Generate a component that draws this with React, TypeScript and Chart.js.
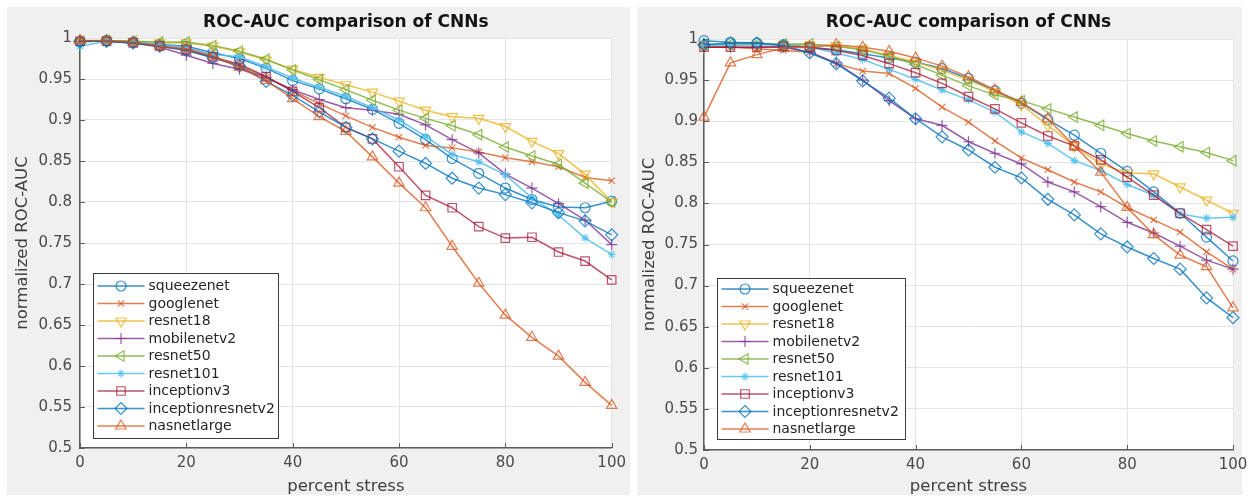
import React, { useEffect, useRef } from 'react';
import { Chart, registerables } from 'chart.js';

Chart.register(...registerables);

const FONT = "'DejaVu Sans', sans-serif";

// ---------- data ----------
const stressLevels = [0, 5, 10, 15, 20, 25, 30, 35, 40, 45, 50, 55, 60, 65, 70, 75, 80, 85, 90, 95, 100];
const xTickLabels = [0, 20, 40, 60, 80, 100];
const yTickLabels = [0.5, 0.55, 0.6, 0.65, 0.7, 0.75, 0.8, 0.85, 0.9, 0.95, 1];
const modelNames = ['squeezenet', 'googlenet', 'resnet18', 'mobilenetv2', 'resnet50', 'resnet101', 'inceptionv3', 'inceptionresnetv2', 'nasnetlarge'];
const chartTitle = 'ROC-AUC comparison of CNNs';
const xAxisTitle = 'percent stress';
const yAxisTitle = 'normalized ROC-AUC';

// left panel
const leftSqueezenet = [0.995, 0.997, 0.995, 0.992, 0.99, 0.982, 0.975, 0.963, 0.948, 0.938, 0.926, 0.913, 0.896, 0.876, 0.853, 0.835, 0.817, 0.803, 0.794, 0.793, 0.801];
const leftGooglenet = [0.996, 0.997, 0.995, 0.99, 0.985, 0.976, 0.966, 0.952, 0.936, 0.92, 0.905, 0.891, 0.879, 0.869, 0.866, 0.861, 0.854, 0.849, 0.843, 0.83, 0.826];
const leftResnet18 = [0.995, 0.997, 0.996, 0.994, 0.994, 0.99, 0.983, 0.973, 0.962, 0.952, 0.943, 0.934, 0.923, 0.912, 0.904, 0.902, 0.892, 0.874, 0.859, 0.834, 0.8];
const leftMobilenetv2 = [0.996, 0.996, 0.994, 0.989, 0.979, 0.969, 0.962, 0.952, 0.937, 0.925, 0.915, 0.912, 0.907, 0.894, 0.876, 0.86, 0.834, 0.817, 0.798, 0.778, 0.748];
const leftResnet50 = [0.996, 0.997, 0.996, 0.995, 0.995, 0.991, 0.984, 0.974, 0.961, 0.949, 0.937, 0.924, 0.912, 0.902, 0.893, 0.882, 0.867, 0.856, 0.846, 0.823, 0.8];
const leftResnet101 = [0.99, 0.996, 0.995, 0.992, 0.988, 0.98, 0.977, 0.965, 0.951, 0.94, 0.929, 0.915, 0.9, 0.88, 0.858, 0.849, 0.833, 0.805, 0.784, 0.756, 0.736];
const leftInceptionv3 = [0.996, 0.996, 0.994, 0.99, 0.986, 0.977, 0.968, 0.953, 0.935, 0.915, 0.891, 0.877, 0.843, 0.808, 0.793, 0.77, 0.756, 0.757, 0.739, 0.728, 0.705];
const leftInceptionresnetv2 = [0.996, 0.996, 0.994, 0.99, 0.985, 0.976, 0.966, 0.947, 0.93, 0.91, 0.891, 0.877, 0.862, 0.847, 0.829, 0.817, 0.809, 0.799, 0.787, 0.777, 0.76];
const leftNasnetlarge = [0.997, 0.997, 0.995, 0.99, 0.987, 0.978, 0.964, 0.948, 0.926, 0.904, 0.886, 0.855, 0.823, 0.793, 0.746, 0.701, 0.662, 0.635, 0.612, 0.58, 0.552];

// right panel
const rightSqueezenet = [0.998, 0.996, 0.995, 0.993, 0.99, 0.987, 0.982, 0.977, 0.972, 0.964, 0.952, 0.937, 0.922, 0.902, 0.883, 0.861, 0.839, 0.814, 0.788, 0.759, 0.73];
const rightGooglenet = [0.99, 0.99, 0.988, 0.986, 0.984, 0.97, 0.961, 0.958, 0.94, 0.917, 0.899, 0.876, 0.855, 0.841, 0.826, 0.814, 0.795, 0.78, 0.765, 0.741, 0.72];
const rightResnet18 = [0.99, 0.992, 0.993, 0.993, 0.993, 0.992, 0.988, 0.98, 0.972, 0.962, 0.95, 0.936, 0.92, 0.895, 0.87, 0.848, 0.837, 0.836, 0.82, 0.804, 0.788];
const rightMobilenetv2 = [0.99, 0.99, 0.99, 0.99, 0.984, 0.971, 0.95, 0.925, 0.903, 0.895, 0.875, 0.861, 0.848, 0.826, 0.814, 0.796, 0.777, 0.764, 0.748, 0.731, 0.72];
const rightResnet50 = [0.993, 0.994, 0.994, 0.994, 0.994, 0.991, 0.987, 0.979, 0.969, 0.956, 0.943, 0.932, 0.925, 0.915, 0.905, 0.895, 0.885, 0.876, 0.869, 0.862, 0.852];
const rightResnet101 = [0.992, 0.993, 0.993, 0.993, 0.99, 0.983, 0.975, 0.963, 0.951, 0.938, 0.926, 0.911, 0.887, 0.873, 0.852, 0.84, 0.823, 0.81, 0.787, 0.782, 0.783];
const rightInceptionv3 = [0.99, 0.99, 0.99, 0.991, 0.99, 0.986, 0.98, 0.97, 0.959, 0.946, 0.93, 0.915, 0.898, 0.882, 0.87, 0.853, 0.832, 0.81, 0.788, 0.768, 0.748];
const rightInceptionresnetv2 = [0.993, 0.995, 0.995, 0.992, 0.983, 0.97, 0.949, 0.928, 0.903, 0.881, 0.865, 0.844, 0.831, 0.805, 0.786, 0.763, 0.747, 0.733, 0.72, 0.685, 0.661];
const rightNasnetlarge = [0.905, 0.971, 0.981, 0.989, 0.99, 0.993, 0.99, 0.985, 0.977, 0.967, 0.954, 0.938, 0.923, 0.903, 0.87, 0.838, 0.795, 0.762, 0.737, 0.723, 0.673];

const leftSeries = [leftSqueezenet, leftGooglenet, leftResnet18, leftMobilenetv2, leftResnet50, leftResnet101, leftInceptionv3, leftInceptionresnetv2, leftNasnetlarge];
const rightSeries = [rightSqueezenet, rightGooglenet, rightResnet18, rightMobilenetv2, rightResnet50, rightResnet101, rightInceptionv3, rightInceptionresnetv2, rightNasnetlarge];

// ---------- styles ----------
const modelColors = [
  'rgba(0,114,189,0.78)',
  'rgba(217,83,25,0.75)',
  'rgba(237,177,32,0.8)',
  'rgba(126,47,142,0.78)',
  'rgba(119,172,48,0.8)',
  'rgba(77,190,238,0.85)',
  'rgba(162,20,47,0.72)',
  'rgba(0,114,189,0.78)',
  'rgba(217,83,25,0.75)',
];
const modelMarkers = [
  { style: 'circle', rot: 0, r: 5 },
  { style: 'crossRot', rot: 0, r: 4.5 },
  { style: 'triangle', rot: 180, r: 6 },
  { style: 'cross', rot: 0, r: 5.5 },
  { style: 'triangle', rot: 270, r: 6 },
  { style: 'star', rot: 0, r: 4 },
  { style: 'rect', rot: 0, r: 6 },
  { style: 'rectRot', rot: 0, r: 6 },
  { style: 'triangle', rot: 0, r: 6 },
];

type Geom = {
  canvasLeft: number; canvasWidth: number; padTop: number; padRight: number;
  yW: number; xH: number; yTickPad: number; xTickPad: number; yTitlePad: number;
  legDx: number; legDyBottom: number; legW: number; legH: number;
};

const leftGeom: Geom = { canvasLeft: 7, canvasWidth: 625, padTop: 31, padRight: 15, yW: 73, xH: 47, yTickPad: 8, xTickPad: 6, yTitlePad: 7, legDx: 13, legDyBottom: 10, legW: 185, legH: 165 };
const rightGeom: Geom = { canvasLeft: 637, canvasWidth: 617, padTop: 32, padRight: 21, yW: 67, xH: 45, yTickPad: 6, xTickPad: 6, yTitlePad: 4, legDx: 13, legDyBottom: 11, legW: 188, legH: 161 };

function drawMarker(ctx: CanvasRenderingContext2D, style: string, rotDeg: number, x: number, y: number, r: number) {
  ctx.save();
  ctx.translate(x, y);
  ctx.rotate((rotDeg * Math.PI) / 180);
  ctx.beginPath();
  const d = r * Math.SQRT1_2;
  switch (style) {
    case 'circle':
      ctx.arc(0, 0, r, 0, Math.PI * 2);
      break;
    case 'triangle':
      ctx.moveTo(0, -r);
      ctx.lineTo(r * 0.866, r * 0.5);
      ctx.lineTo(-r * 0.866, r * 0.5);
      ctx.closePath();
      break;
    case 'rect':
      ctx.rect(-d, -d, 2 * d, 2 * d);
      break;
    case 'rectRot':
      ctx.moveTo(0, -r); ctx.lineTo(r, 0); ctx.lineTo(0, r); ctx.lineTo(-r, 0); ctx.closePath();
      break;
    case 'cross':
      ctx.moveTo(0, -r); ctx.lineTo(0, r); ctx.moveTo(-r, 0); ctx.lineTo(r, 0);
      break;
    case 'crossRot':
      ctx.moveTo(-d, -d); ctx.lineTo(d, d); ctx.moveTo(-d, d); ctx.lineTo(d, -d);
      break;
    case 'star':
      ctx.moveTo(0, -r); ctx.lineTo(0, r); ctx.moveTo(-r, 0); ctx.lineTo(r, 0);
      ctx.moveTo(-d, -d); ctx.lineTo(d, d); ctx.moveTo(-d, d); ctx.lineTo(d, -d);
      break;
  }
  ctx.stroke();
  ctx.restore();
}

const framePlugin = {
  id: 'matlabFrame',
  beforeDraw(chart: any) {
    const { ctx, chartArea: a } = chart;
    ctx.save();
    ctx.fillStyle = '#ffffff';
    ctx.fillRect(a.left, a.top, a.right - a.left, a.bottom - a.top);
    ctx.restore();
  },
  beforeDatasetsDraw(chart: any) {
    const { ctx, chartArea: a, scales } = chart;
    ctx.save();
    ctx.strokeStyle = '#5c5c5c';
    ctx.lineWidth = 1;
    xTickLabels.forEach((v) => {
      const px = Math.round(scales.x.getPixelForValue(v)) + 0.5;
      ctx.beginPath(); ctx.moveTo(px, a.bottom); ctx.lineTo(px, a.bottom - 5); ctx.stroke();
    });
    yTickLabels.forEach((v) => {
      const py = Math.round(scales.y.getPixelForValue(v)) + 0.5;
      ctx.beginPath(); ctx.moveTo(a.left, py); ctx.lineTo(a.left + 5, py); ctx.stroke();
    });
    ctx.restore();
  },
  afterDraw(chart: any) {
    const { ctx, chartArea: a } = chart;
    const geom: Geom = chart.options.plugins.matlabFrame.geom;
    // title
    ctx.save();
    ctx.font = `bold 17px ${FONT}`;
    ctx.fillStyle = '#141414';
    ctx.textAlign = 'center';
    ctx.textBaseline = 'middle';
    ctx.fillText(chartTitle, (a.left + a.right) / 2, 16);
    ctx.restore();
    // legend inside axes
    const bx = Math.round(a.left + geom.legDx) + 0.5;
    const by = Math.round(a.bottom - geom.legDyBottom - geom.legH) + 0.5;
    ctx.save();
    ctx.fillStyle = '#ffffff';
    ctx.fillRect(bx, by, geom.legW, geom.legH);
    ctx.strokeStyle = '#3c3c3c';
    ctx.lineWidth = 1;
    ctx.strokeRect(bx, by, geom.legW, geom.legH);
    const rowH = 17.5;
    const first = by + (geom.legH - rowH * (modelNames.length - 1)) / 2;
    chart.data.datasets.forEach((ds: any, i: number) => {
      const y = first + i * rowH;
      ctx.strokeStyle = ds.borderColor;
      ctx.lineWidth = 1.3;
      ctx.beginPath(); ctx.moveTo(bx + 4, y); ctx.lineTo(bx + 51, y); ctx.stroke();
      ctx.lineWidth = 1.2;
      drawMarker(ctx, ds.pointStyle, ds.pointRotation, bx + 27.5, y, ds.pointRadius);
      ctx.fillStyle = '#262626';
      ctx.font = `14px ${FONT}`;
      ctx.textAlign = 'left';
      ctx.textBaseline = 'middle';
      ctx.fillText(ds.label, bx + 55, y + 0.5);
    });
    ctx.restore();
  },
};

function buildConfig(series: number[][], geom: Geom): any {
  return {
    type: 'line',
    data: {
      datasets: modelNames.map((name, i) => ({
        label: name,
        data: stressLevels.map((x, j) => ({ x, y: series[i][j] })),
        borderColor: modelColors[i],
        borderWidth: 1.5,
        pointStyle: modelMarkers[i].style,
        pointRotation: modelMarkers[i].rot,
        pointRadius: modelMarkers[i].r,
        pointBorderWidth: 1.2,
        pointBorderColor: modelColors[i],
        pointBackgroundColor: 'rgba(255,255,255,0)',
        fill: false,
        tension: 0,
        clip: false,
        order: modelNames.length - 1 - i,
      })),
    },
    options: {
      responsive: false,
      animation: false,
      events: [],
      layout: { padding: { left: 0, right: geom.padRight, top: geom.padTop, bottom: 0 } },
      plugins: {
        legend: { display: false },
        tooltip: { enabled: false },
        title: { display: false },
        matlabFrame: { geom },
      },
      scales: {
        x: {
          type: 'linear',
          min: 0,
          max: 100,
          afterBuildTicks: (axis: any) => { axis.ticks = xTickLabels.map((v) => ({ value: v })); },
          afterFit: (s: any) => { s.height = geom.xH; },
          ticks: { color: '#4a4a4a', font: { family: FONT, size: 15 }, padding: geom.xTickPad, maxRotation: 0, autoSkip: false },
          grid: { color: '#e4e4e4', lineWidth: 1, drawTicks: false },
          border: { display: true, color: '#5c5c5c', width: 1.5 },
          title: { display: true, text: xAxisTitle, color: '#404040', font: { family: FONT, size: 16.5, lineHeight: 1 }, padding: { top: 0, bottom: 0 } },
        },
        y: {
          type: 'linear',
          min: 0.5,
          max: 1,
          afterBuildTicks: (axis: any) => { axis.ticks = yTickLabels.map((v) => ({ value: v })); },
          afterFit: (s: any) => { s.width = geom.yW; },
          ticks: { color: '#4a4a4a', font: { family: FONT, size: 15 }, padding: geom.yTickPad, autoSkip: false, callback: (v: any) => String(Number(Number(v).toFixed(2))) },
          grid: { color: '#e4e4e4', lineWidth: 1, drawTicks: false },
          border: { display: true, color: '#5c5c5c', width: 1.5 },
          title: { display: true, text: yAxisTitle, color: '#404040', font: { family: FONT, size: 16.5, lineHeight: 1 }, padding: { top: geom.yTitlePad, bottom: 0 } },
        },
      },
    },
    plugins: [framePlugin],
  };
}

function Panel({ series, geom }: { series: number[][]; geom: Geom }) {
  const ref = useRef<HTMLCanvasElement | null>(null);
  useEffect(() => {
    if (!ref.current) return;
    const chart = new Chart(ref.current, buildConfig(series, geom));
    return () => chart.destroy();
  }, [series, geom]);
  return (
    <canvas
      ref={ref}
      width={geom.canvasWidth}
      height={488}
      style={{ position: 'absolute', left: geom.canvasLeft, top: 7, width: geom.canvasWidth, height: 488 }}
    />
  );
}

export default function App() {
  return (
    <div style={{ position: 'absolute', left: 0, top: 0, width: 1254, height: 499, background: '#ffffff', overflow: 'hidden' }}>
      <div style={{ position: 'absolute', left: 7, top: 7, width: 623, height: 488, background: '#f0f0f0' }} />
      <div style={{ position: 'absolute', left: 637, top: 7, width: 605, height: 488, background: '#f0f0f0' }} />
      <Panel series={leftSeries} geom={leftGeom} />
      <Panel series={rightSeries} geom={rightGeom} />
    </div>
  );
}
